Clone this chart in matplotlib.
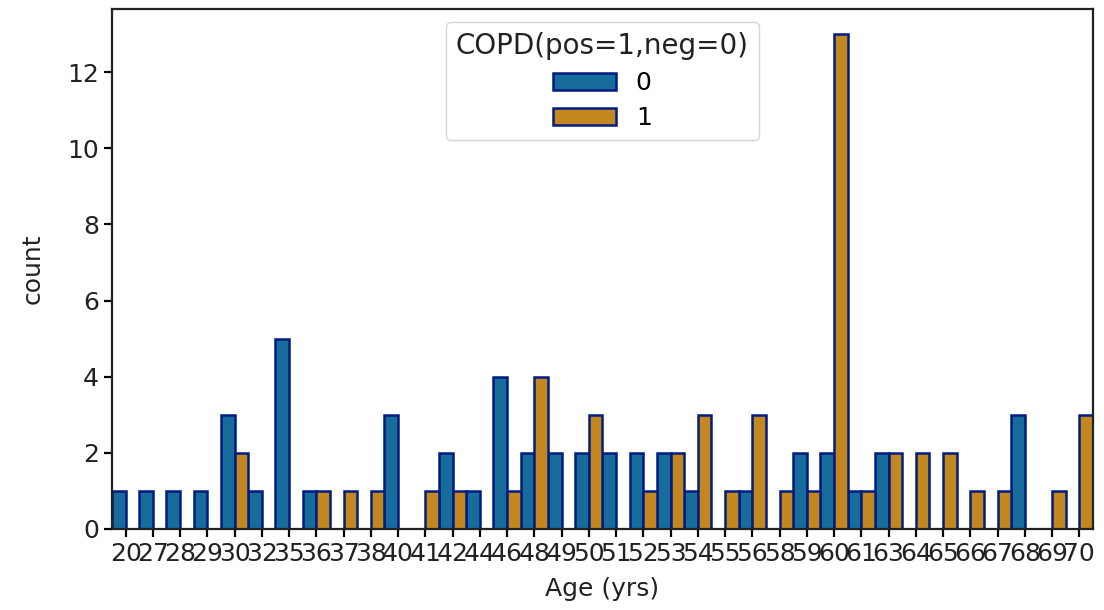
import numpy as np
import matplotlib
matplotlib.use('Agg')
import matplotlib.pyplot as plt

# age categories and counts per COPD class
ages = ['20', '27', '28', '29', '30', '32', '35', '36', '37', '38',
        '40', '41', '42', '44', '46', '48', '49', '50', '51', '52',
        '53', '54', '55', '56', '58', '59', '60', '61', '63', '64',
        '65', '66', '67', '68', '69', '70']
neg_counts = [1, 1, 1, 1, 3, 1, 5, 1, 0, 0,
              3, 0, 2, 1, 4, 2, 2, 2, 2, 2,
              2, 1, 0, 1, 0, 2, 2, 1, 2, 0,
              0, 0, 0, 3, 0, 0]
pos_counts = [0, 0, 0, 0, 2, 0, 0, 1, 1, 1,
              0, 1, 1, 0, 1, 4, 0, 3, 0, 1,
              2, 3, 1, 3, 1, 1, 13, 1, 2, 2,
              2, 1, 1, 0, 1, 3]
hue_labels = ['0', '1']

plt.rcParams['font.family'] = 'DejaVu Sans'
plt.rcParams['font.size'] = 18

fig = plt.figure(figsize=(11.04, 6.10), dpi=100)
ax = fig.add_axes([0.1014, 0.1328, 0.8886, 0.852])

x = np.arange(len(ages))
w = 0.5
blue = '#176c9c'
orange = '#c38720'
edge = '#001c7f'

ax.bar(x - w / 2, neg_counts, width=w, color=blue, edgecolor=edge,
       linewidth=1.8, label=hue_labels[0])
ax.bar(x + w / 2, pos_counts, width=w, color=orange, edgecolor=edge,
       linewidth=1.8, label=hue_labels[1])

ax.set_xticks(x)
ax.set_xticklabels(ages)
ax.set_xlim(-0.5, len(ages) - 0.5)
ax.set_yticks(range(0, 13, 2))
ax.set_ylim(0, 13.65)

ax.set_xlabel('Age (yrs)', fontsize=18, labelpad=8, color='#222222')
ax.set_ylabel('count', fontsize=18, labelpad=16, color='#222222')

for s in ax.spines.values():
    s.set_linewidth(1.6)
    s.set_color('#222222')
ax.tick_params(width=1.6, length=6, labelsize=18, labelcolor='#222222')

leg = ax.legend(title='COPD(pos=1,neg=0)', loc='upper center', fontsize=18,
                title_fontsize=20, handlelength=2.5, borderaxespad=0.5,
                borderpad=0.4, labelspacing=0.45)
leg.get_title().set_color('#222222')

fig.savefig('out.png', dpi=100)
